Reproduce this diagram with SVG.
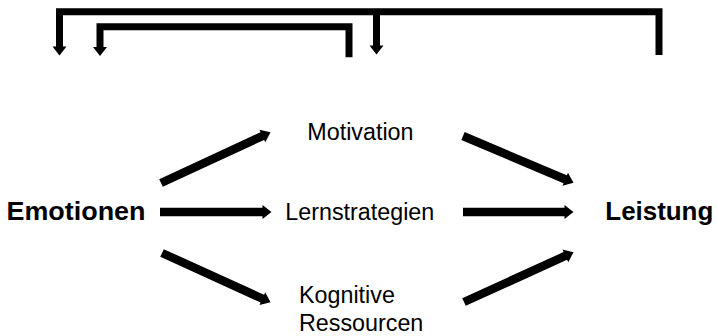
<svg xmlns="http://www.w3.org/2000/svg" width="717" height="336" viewBox="0 0 717 336">
  <style>
    .bg { fill: #ffffff; }
    .lbl { font-family: "Liberation Sans", Arial, sans-serif; font-size: 23.3px; fill: #000000; }
    .bold { font-family: "Liberation Sans", Arial, sans-serif; font-size: 25px; font-weight: bold; fill: #000000; }
    .arr { fill: none; stroke: #000000; stroke-width: 8.5; stroke-linecap: butt; marker-end: url(#head); }
    .fb { fill: none; stroke: #000000; stroke-width: 7; stroke-linejoin: miter; stroke-linecap: butt; }
    .fba { marker-end: url(#head); }
  </style>
  <defs>
    <marker id="head" markerUnits="userSpaceOnUse" markerWidth="10" markerHeight="14" refX="0.5" refY="7" orient="auto" overflow="visible">
      <path d="M0,0 L9,7 L0,14 Z" fill="#000000"/>
    </marker>
  </defs>
  <rect class="bg" x="0" y="0" width="717" height="336"/>

  <g id="connectors">
    <path class="arr" d="M161,183 L262.8,135.8"/>
    <path class="arr" d="M160,212 L263,212"/>
    <path class="arr" d="M162,253 L262.8,298.8"/>
    <path class="arr" d="M463,136 L565.7,179.5"/>
    <path class="arr" d="M463,212 L565,212"/>
    <path class="arr" d="M464,302 L565.8,255.7"/>
    <g id="feedback-outer">
      <path class="fb fba" d="M659,55 L659,11.7 L59.5,11.7 L59.5,47"/>
      <path class="fb fba" d="M376.5,11.7 L376.5,46"/>
    </g>
    <g id="feedback-inner">
      <path class="fb fba" d="M349,57.3 L349,26.7 L100,26.7 L100,47.5"/>
    </g>
  </g>

  <g id="node-emotionen">
    <text class="bold" x="6.5" y="219.5" textLength="139" lengthAdjust="spacingAndGlyphs">Emotionen</text>
  </g>
  <g id="node-motivation">
    <text class="lbl" x="307.3" y="140">Motivation</text>
  </g>
  <g id="node-lernstrategien">
    <text class="lbl" x="285.3" y="220">Lernstrategien</text>
  </g>
  <g id="node-kognitive-ressourcen">
    <text class="lbl" x="299" y="303">Kognitive</text>
    <text class="lbl" x="299" y="331">Ressourcen</text>
  </g>
  <g id="node-leistung">
    <text class="bold" x="605.3" y="220.3" textLength="108" lengthAdjust="spacingAndGlyphs">Leistung</text>
  </g>
</svg>
